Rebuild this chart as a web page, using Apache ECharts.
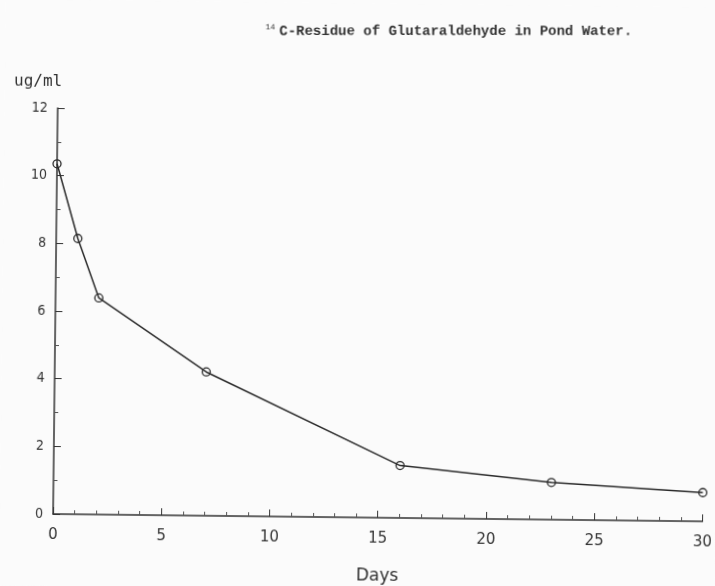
<!DOCTYPE html>
<html>
<head>
<meta charset="utf-8">
<script src="https://cdn.jsdelivr.net/npm/echarts@6/dist/echarts.min.js"></script>
<style>
  html, body { margin: 0; padding: 0; background: #fbfbfb; overflow: hidden; }
  /* the plotted sheet sits slightly skewed; pivot on the axis origin */
  #chart { width: 715px; height: 586px; transform-origin: 53px 522px; transform: rotate(0.65deg); }
</style>
</head>
<body>
<div id="chart"></div>
<script>
// Sampling days and measured residue concentration (ug/ml)
var days = [0, 1, 2, 7, 16, 23, 30];
var residue = [10.35, 8.15, 6.4, 4.25, 1.55, 1.1, 0.85];

var titleText = 'C-Residue of Glutaraldehyde in Pond Water.';
var isotope = '14';
var yUnit = 'ug/ml';
var xName = 'Days';

var ink = '#333';
var labelFont = 'DejaVu Sans Condensed, DejaVu Sans, sans-serif';
var tilt = 0.65 * Math.PI / 180;

var chart = echarts.init(document.getElementById('chart'));
chart.setOption({
  backgroundColor: '#fbfbfb',
  animation: false,
  graphic: [{
    // typed heading, kept level by undoing the sheet tilt
    type: 'text',
    x: 260,
    y: 21,
    rotation: tilt,
    style: {
      text: '{sup|' + isotope + '}{t|' + titleText + '}',
      rich: {
        sup: { fontFamily: 'Liberation Mono, monospace', fontSize: 8, fill: ink, verticalAlign: 'top', padding: [0, 4, 8, 0] },
        t: { fontFamily: 'Liberation Mono, monospace', fontSize: 14, fontWeight: 'bold', fill: ink }
      }
    }
  }],
  grid: { left: 53, right: 8, top: 108, bottom: 64 },
  xAxis: {
    type: 'value',
    min: 0, max: 30, interval: 5,
    name: xName,
    nameLocation: 'middle',
    nameGap: 50,
    nameTextStyle: { fontFamily: 'DejaVu Sans, sans-serif', fontSize: 17, color: ink },
    axisLine: { onZero: false, lineStyle: { color: ink, width: 1.5 } },
    axisTick: { inside: true, length: 7, lineStyle: { color: ink } },
    minorTick: { show: true, splitNumber: 5, length: 4, lineStyle: { color: '#555' } },
    axisLabel: { margin: 14, fontFamily: 'DejaVu Sans, sans-serif', fontSize: 15, color: ink },
    splitLine: { show: false }
  },
  yAxis: {
    type: 'value',
    min: 0, max: 12, interval: 2,
    name: yUnit,
    nameLocation: 'end',
    nameGap: 18,
    nameTextStyle: { fontFamily: 'DejaVu Sans Mono, monospace', fontSize: 16, color: ink, align: 'left', padding: [0, 0, 0, -44] },
    axisLine: { show: true, lineStyle: { color: ink, width: 1.5 } },
    axisTick: { show: true, inside: true, length: 7, lineStyle: { color: ink } },
    minorTick: { show: true, splitNumber: 2, length: 4, lineStyle: { color: '#555' } },
    axisLabel: { margin: 10, fontFamily: labelFont, fontSize: 14, color: ink },
    splitLine: { show: false }
  },
  series: [{
    type: 'line',
    data: days.map(function (d, i) { return [d, residue[i]]; }),
    symbol: 'circle',
    symbolSize: 8,
    lineStyle: { color: '#2a2a2a', width: 1.5 },
    itemStyle: { color: 'rgba(0,0,0,0)', borderColor: '#2a2a2a', borderWidth: 1.3 },
    clip: false
  }]
});
</script>
</body>
</html>
